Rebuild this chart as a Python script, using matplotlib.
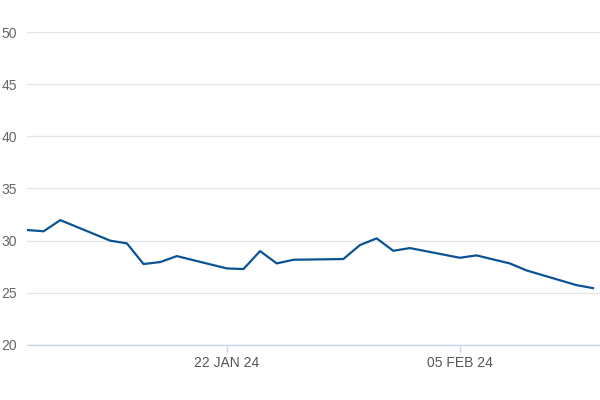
import matplotlib
matplotlib.use("Agg")
import matplotlib.pyplot as plt
import matplotlib.dates as mdates
import pandas as pd

# trading days and values
dates = ["2024-01-10", "2024-01-11", "2024-01-12", "2024-01-15", "2024-01-16",
         "2024-01-17", "2024-01-18", "2024-01-19", "2024-01-22", "2024-01-23",
         "2024-01-24", "2024-01-25", "2024-01-26", "2024-01-29", "2024-01-30",
         "2024-01-31", "2024-02-01", "2024-02-02", "2024-02-05", "2024-02-06",
         "2024-02-07", "2024-02-08", "2024-02-09", "2024-02-12", "2024-02-13"]
values = [31.02, 30.9, 31.97, 30.0, 29.74,
          27.76, 27.95, 28.52, 27.34, 27.28,
          29.0, 27.82, 28.17, 28.24, 29.58,
          30.22, 29.03, 29.29, 28.36, 28.59,
          28.2, 27.82, 27.15, 25.74, 25.45]
x_ticks = ["2024-01-22", "2024-02-05"]
y_ticks = [20, 25, 30, 35, 40, 45, 50]

plt.rcParams['font.family'] = ['Liberation Sans', 'DejaVu Sans']

x = pd.to_datetime(dates)
fig = plt.figure(figsize=(6, 4), dpi=100)
ax = fig.add_axes([0.045, 0.1375, 0.955, 0.7825])

ax.plot(x, values, color="#0b5394", linewidth=1.6, solid_joinstyle="round")

ax.set_ylim(20, 50)
ax.set_yticks(y_ticks)
ax.set_xlim(x[0], x[-1] + pd.Timedelta(hours=10))
ax.set_xticks(pd.to_datetime(x_ticks))
ax.set_xticklabels([pd.Timestamp(t).strftime("%d %b %y").upper() for t in x_ticks])

ax.grid(axis="y", color="#e6e6e6", linewidth=1)
ax.set_axisbelow(True)
for s in ["top", "right", "left"]:
    ax.spines[s].set_visible(False)
ax.spines["bottom"].set_color("#ccd6eb")
ax.spines["bottom"].set_linewidth(1)

ax.tick_params(axis="y", length=0, pad=7, labelsize=10, labelcolor="#666666")
ax.tick_params(axis="x", length=5, width=1, color="#ccd6eb", pad=3,
               labelsize=10, labelcolor="#555555")

fig.savefig("out.png", dpi=100)
